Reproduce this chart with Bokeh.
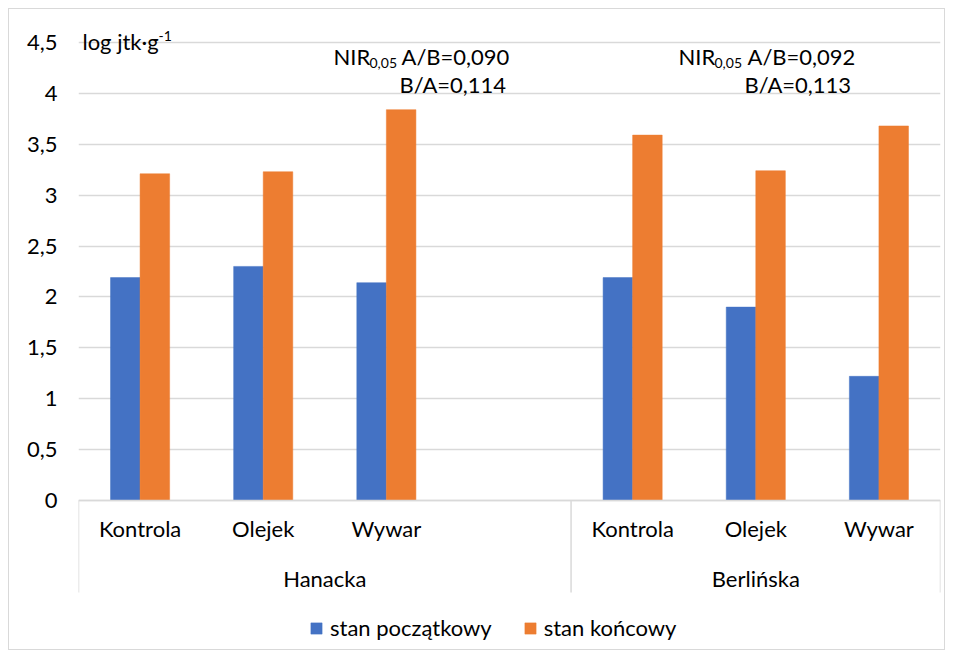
from bokeh.plotting import figure
from bokeh.models import (FactorRange, Range1d, FixedTicker, CustomJSTickFormatter,
                          CategoricalAxis, Label, Legend, LegendItem, ColumnDataSource)
from bokeh.transform import dodge
from bokeh.core.properties import value
from bokeh.embed import file_html
from bokeh.resources import INLINE

# ---------------- data ----------------
odmiany = ["Hanacka", "Berlińska"]
warianty = ["Kontrola", "Olejek", "Wywar"]
stan_poczatkowy = [2.19, 2.30, 2.14, 2.19, 1.90, 1.22]
stan_koncowy = [3.21, 3.23, 3.84, 3.59, 3.24, 3.68]
serie = ["stan początkowy", "stan końcowy"]
y_ticks = [0, 0.5, 1, 1.5, 2, 2.5, 3, 3.5, 4, 4.5]
jednostka = "log jtk·g"
jednostka_wykladnik = "-1"
nir_label = "NIR"
nir_indeks = "0,05"
nir_hanacka = ["A/B=0,090", "B/A=0,114"]
nir_berlinska = ["A/B=0,092", "B/A=0,113"]

# ---------------- style ----------------
FONT = "Lato"
FS = "22px"
FS_SMALL = "14px"
BLUE, ORANGE = "#4472C4", "#ED7D31"
GRID = "#d9d9d9"
TXT = "#000000"

# layout (page pixels)
PAGE_OFF = 9          # 8px css margin + 1px border
W, H = 937, 642
FL, FR, FT, FB = 78, 940, 12, 642   # frame edges
GRID_TOP = 42                        # page y of the top tick
ZERO = 500                           # page y of value 0
BOX_B = 592

ppu = (ZERO - GRID_TOP) / y_ticks[-1]
y_lo = -(FB - ZERO) / ppu
y_hi = y_ticks[-1] + (GRID_TOP - FT) / ppu
box_lo = -(BOX_B - ZERO) / ppu
group_y = -(578 - ZERO) / ppu

factors = []
bounds = [0]
for i, o in enumerate(odmiany):
    grp = [(o, w) for w in warianty]
    if i == 0:
        grp.append((o, " "))
    factors += grp
    bounds.append(len(factors))

bar_x = [(o, w) for o in odmiany for w in warianty]
src = ColumnDataSource(dict(x=bar_x, a=stan_poczatkowy, b=stan_koncowy))

p = figure(width=W, height=H,
           x_range=FactorRange(*factors, factor_padding=0, group_padding=0, range_padding=0),
           y_range=Range1d(y_lo, y_hi),
           output_backend="svg", toolbar_location=None, x_axis_location=None,
           min_border_left=FL - PAGE_OFF, min_border_right=W - (FR - PAGE_OFF),
           min_border_top=FT - PAGE_OFF, min_border_bottom=H - (FB - PAGE_OFF))
p.styles = {"border": "1px solid #d9d9d9", "margin-left": "8px", "margin-top": "8px"}
p.outline_line_color = None
p.background_fill_color = "white"
p.border_fill_color = "white"

# y axis
yax = p.yaxis[0]
yax.ticker = FixedTicker(ticks=y_ticks)
yax.formatter = CustomJSTickFormatter(code="return String(tick).replace('.', ',')")
yax.axis_line_color = None
yax.major_tick_line_color = None
yax.minor_tick_line_color = None
yax.major_tick_in = 0
yax.major_tick_out = 0
yax.major_label_standoff = 21
yax.major_label_text_font = FONT
yax.major_label_text_font_size = FS
yax.major_label_text_color = TXT
p.ygrid.ticker = FixedTicker(ticks=y_ticks)
p.ygrid.grid_line_color = GRID
p.ygrid.grid_line_width = 1.5
p.xgrid.visible = False

# x axis drawn at y = 0 inside the frame
xax = CategoricalAxis(fixed_location=0, axis_line_color=GRID, axis_line_width=1.5,
                      major_tick_line_color=None, major_tick_in=0, major_tick_out=0,
                      major_label_standoff=14, major_label_text_font=FONT,
                      major_label_text_font_size=FS, major_label_text_color=TXT,
                      group_text_color=None, separator_line_color=None)
p.add_layout(xax, "below")

# category box lines
p.segment(x0=bounds, y0=[0] * len(bounds), x1=bounds, y1=[box_lo] * len(bounds),
          line_color=GRID, line_width=1.5)

# group labels
p.text(x=odmiany, y=[group_y] * len(odmiany), text=odmiany, text_align="center",
       text_baseline="middle", text_font=value(FONT), text_font_size=value(FS),
       text_color=TXT)

# bars
r1 = p.vbar(x=dodge("x", -0.12, range=p.x_range), top="a", width=0.24, source=src,
            fill_color=BLUE, line_color=BLUE, line_width=0.5)
r2 = p.vbar(x=dodge("x", 0.12, range=p.x_range), top="b", width=0.24, source=src,
            fill_color=ORANGE, line_color=ORANGE, line_width=0.5)


def lab(text, px, py, size=FS, align="left"):
    # py = page y of the text's vertical middle
    p.add_layout(Label(x=px - FL, y=FB - py, x_units="screen", y_units="screen", text=text,
                       text_font=FONT, text_font_size=size, text_color=TXT,
                       text_align=align, text_baseline="middle"))


lab(jednostka, 82, 41)
lab(jednostka_wykladnik, 158, 35, FS_SMALL)

for (x0, xa, xb), (l1, l2) in zip([(333, 401, 399), (678, 747, 744)], [nir_hanacka, nir_berlinska]):
    lab(nir_label, x0, 56)
    lab(nir_indeks, x0 + 36, 62, FS_SMALL)
    lab(l1, xa, 56)
    lab(l2, xb, 84)

legend = Legend(items=[LegendItem(label=serie[0], renderers=[r1]),
                       LegendItem(label=serie[1], renderers=[r2])],
                orientation="horizontal", location=(309 - FL, FB - 641),
                glyph_width=14, glyph_height=14, label_standoff=7, spacing=31,
                padding=0, margin=0, border_line_color=None, background_fill_alpha=0,
                label_text_font=FONT, label_text_font_size=FS, label_text_color=TXT,
                label_height=14)
p.add_layout(legend)

open("out.html", "w").write(file_html(p, INLINE))
